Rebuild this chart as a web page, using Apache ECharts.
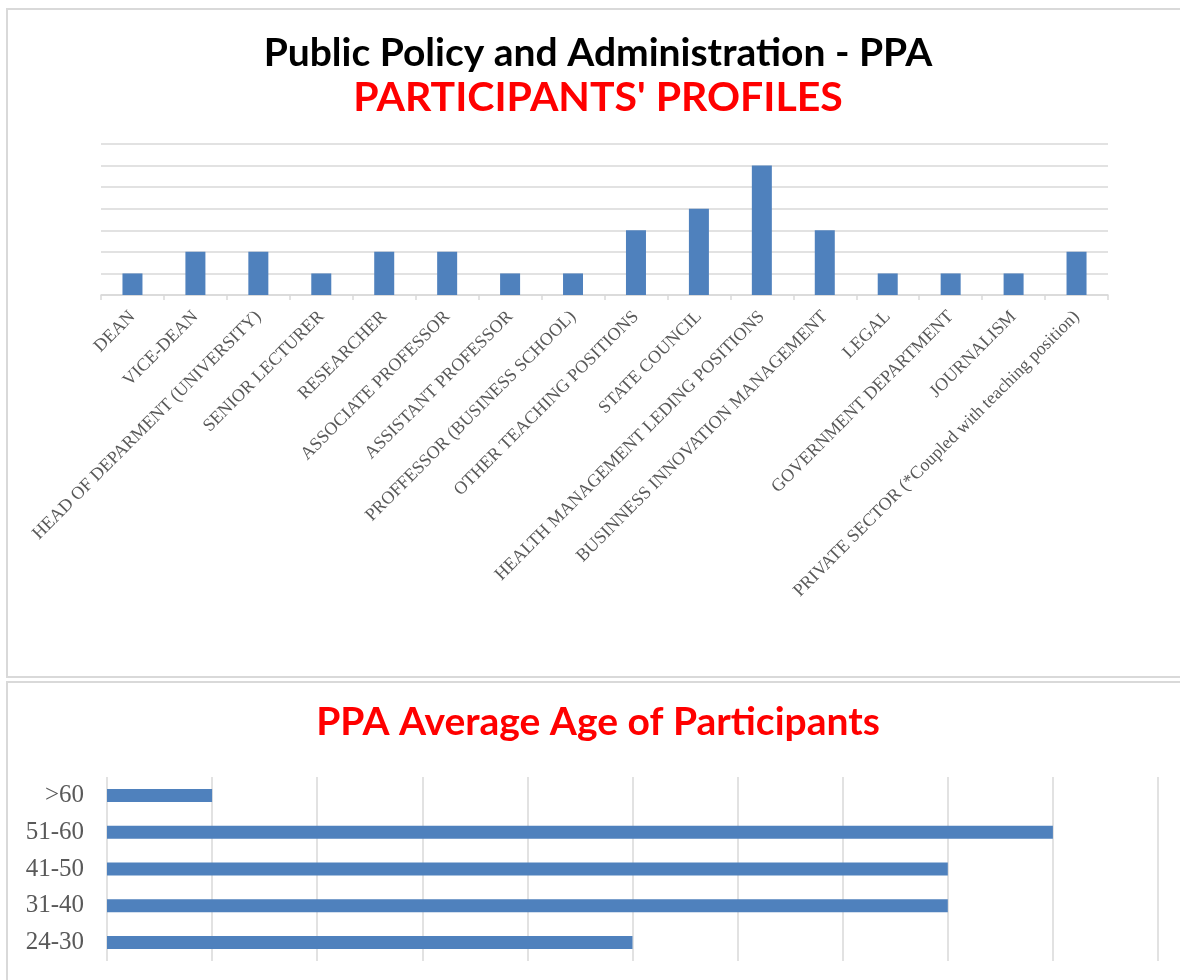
<!DOCTYPE html>
<html>
<head>
<meta charset="utf-8">
<script src="https://cdn.jsdelivr.net/npm/echarts@6/dist/echarts.min.js"></script>
<style>
html,body{margin:0;padding:0;background:#fff;}
#chart{width:1180px;height:980px;}
</style>
</head>
<body>
<div id="chart"></div>
<script>
// Top chart: participants' profiles
const profileCategories = [
  'DEAN', 'VICE-DEAN', 'HEAD OF DEPARMENT (UNIVERSITY)', 'SENIOR LECTURER', 'RESEARCHER',
  'ASSOCIATE PROFESSOR', 'ASSISTANT PROFESSOR', 'PROFFESSOR (BUSINESS SCHOOL)',
  'OTHER TEACHING POSITIONS', 'STATE COUNCIL', 'HEALTH MANAGEMENT LEDING POSITIONS',
  'BUSINNESS INNOVATION MANAGEMENT', 'LEGAL', 'GOVERNMENT DEPARTMENT', 'JOURNALISM',
  'PRIVATE SECTOR (*Coupled with teaching position)'
];
const profileValues = [1, 2, 2, 1, 2, 2, 1, 1, 3, 4, 6, 3, 1, 1, 1, 2];

// Bottom chart: average age
const ageCategories = ['24-30', '31-40', '41-50', '51-60', '>60'];
const ageValues = [5, 8, 8, 9, 1];

const titleMain = 'Public Policy and Administration - PPA';
const titleSub = "PARTICIPANTS' PROFILES";
const titleAge = 'PPA Average Age of Participants';

const chart = echarts.init(document.getElementById('chart'), null, {renderer: 'canvas'});
const grey = '#d9d9d9';
const labelGrey = '#595959';
const barBlue = '#4f81bd';

chart.setOption({
  backgroundColor: '#fff',
  animation: false,
  graphic: [
    {type: 'rect', shape: {x: 7, y: 9, width: 1200, height: 668}, style: {fill: 'none', stroke: grey, lineWidth: 2}, z: -1},
    {type: 'rect', shape: {x: 7, y: 682, width: 1200, height: 400}, style: {fill: 'none', stroke: grey, lineWidth: 2}, z: -1}
  ],
  title: [
    {text: titleMain, left: 593, textAlign: 'center', top: 29, textStyle: {fontFamily: 'Lato', fontWeight: 'bold', fontSize: 39, color: '#000'}},
    {text: titleSub, left: 593, textAlign: 'center', top: 72, textStyle: {fontFamily: 'Lato', fontWeight: 'bold', fontSize: 41, color: '#ff0000'}},
    {text: titleAge, left: 593, textAlign: 'center', top: 698, textStyle: {fontFamily: 'Lato', fontWeight: 'bold', fontSize: 39, color: '#ff0000'}}
  ],
  grid: [
    {left: 101, right: 72, top: 144, height: 151},
    {left: 107, right: 22, top: 777, height: 184}
  ],
  xAxis: [
    {
      type: 'category', gridIndex: 0, data: profileCategories,
      axisLine: {lineStyle: {color: grey, width: 1.5}},
      axisTick: {show: true, length: 5, lineStyle: {color: grey, width: 1.5}},
      axisLabel: {rotate: 45, interval: 0, margin: 19, color: labelGrey, fontFamily: 'Liberation Serif', fontSize: 18}
    },
    {
      type: 'value', gridIndex: 1, min: 0, max: 10, interval: 1,
      axisLine: {show: false}, axisTick: {show: false}, axisLabel: {show: false},
      splitLine: {show: true, lineStyle: {color: grey, width: 1.5}}
    }
  ],
  yAxis: [
    {
      type: 'value', gridIndex: 0, min: 0, max: 7, interval: 1,
      axisLine: {show: false}, axisTick: {show: false}, axisLabel: {show: false},
      splitLine: {show: true, lineStyle: {color: grey, width: 1.5}}
    },
    {
      type: 'category', gridIndex: 1, data: ageCategories,
      axisLine: {show: false}, axisTick: {show: false},
      axisLabel: {margin: 23, color: labelGrey, fontFamily: 'Liberation Serif', fontSize: 25}
    }
  ],
  series: [
    {type: 'bar', xAxisIndex: 0, yAxisIndex: 0, data: profileValues, barWidth: 20, itemStyle: {color: barBlue}},
    {type: 'bar', xAxisIndex: 1, yAxisIndex: 1, data: ageValues, barWidth: 13, itemStyle: {color: barBlue}}
  ]
});
</script>
</body>
</html>
